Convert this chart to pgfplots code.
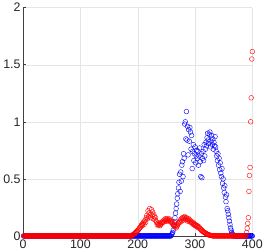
\documentclass[border=0pt]{standalone}
\usepackage{pgfplots}
\pgfplotsset{compat=1.18}
\usepackage{fontspec}
\setmainfont{Liberation Sans}
\begin{document}
\begin{tikzpicture}
\begin{axis}[
  scale only axis, width=231pt, height=230pt,
  xmin=0, xmax=400, ymin=0, ymax=2,
  xtick={0,100,200,300,400}, ytick={0,0.5,1,1.5,2},
  yticklabels={0,0.5,1,1.5,2},
  axis lines*=left,
  axis line style={-, black!75, line width=0.5pt},
  grid=major, grid style={black!10, line width=0.4pt},
  tick style={black!75, line width=0.5pt},
  tick align=inside, major tick length=2.5pt,
  /pgf/number format/assume math mode=true,
  tick label style={font=\fontsize{12.5}{14}\selectfont, text=black!85},
  yticklabel style={xshift=1pt},
  xticklabel style={yshift=0pt},
  clip=false,
]
\addplot[only marks, mark=o, mark size=2.4pt, blue, line width=0.4pt] coordinates {
(1,0)(2,0)(3,0)(4,0)(5,0)(6,0)(7,0)(8,0)(9,0)(10,0)
(11,0)(12,0)(13,0)(14,0)(15,0)(16,0)(17,0)(18,0)(19,0)(20,0)
(21,0)(22,0)(23,0)(24,0)(25,0)(26,0)(27,0)(28,0)(29,0)(30,0)
(31,0)(32,0)(33,0)(34,0)(35,0)(36,0)(37,0)(38,0)(39,0)(40,0)
(41,0)(42,0)(43,0)(44,0)(45,0)(46,0)(47,0)(48,0)(49,0)(50,0)
(51,0)(52,0)(53,0)(54,0)(55,0)(56,0)(57,0)(58,0)(59,0)(60,0)
(61,0)(62,0)(63,0)(64,0)(65,0)(66,0)(67,0)(68,0)(69,0)(70,0)
(71,0)(72,0)(73,0)(74,0)(75,0)(76,0)(77,0)(78,0)(79,0)(80,0)
(81,0)(82,0)(83,0)(84,0)(85,0)(86,0)(87,0)(88,0)(89,0)(90,0)
(91,0)(92,0)(93,0)(94,0)(95,0)(96,0)(97,0)(98,0)(99,0)(100,0)
(101,0)(102,0)(103,0)(104,0)(105,0)(106,0)(107,0)(108,0)(109,0)(110,0)
(111,0)(112,0)(113,0)(114,0)(115,0)(116,0)(117,0)(118,0)(119,0)(120,0)
(121,0)(122,0)(123,0)(124,0)(125,0)(126,0)(127,0)(128,0)(129,0)(130,0)
(131,0)(132,0)(133,0)(134,0)(135,0)(136,0)(137,0)(138,0)(139,0)(140,0)
(141,0)(142,0)(143,0)(144,0)(145,0)(146,0)(147,0)(148,0)(149,0)(150,0)
(151,0)(152,0)(153,0)(154,0)(155,0)(156,0)(157,0)(158,0)(159,0)(160,0)
(161,0)(162,0)(163,0)(164,0)(165,0)(166,0)(167,0)(168,0)(169,0)(170,0)
(171,0)(172,0)(173,0)(174,0)(175,0)(176,0)(177,0)(178,0)(179,0)(180,0)
(181,0)(182,0)(183,0)(184,0)(185,0)(186,0)(187,0)(188,0)(189,0)(190,0)
(191,0)(192,0)(193,0)(194,0)(195,0)(196,0)(197,0)(198,0)(199,0)(200,0)
(201,0)(202,0)(203,0)(204,0)(205,0)(206,0)(207,0)(208,0)(209,0)(210,0)
(211,0)(212,0)(213,0)(214,0)(215,0)(216,0)(217,0)(218,0)(219,0)(220,0)
(221,0)(222,0)(223,0)(224,0)(225,0)(226,0)(227,0)(228,0)(229,0)(230,0)
(231,0)(232,0)(233,0)(234,0)(235,0)(236,0)(237,0)(238,0)(239,0)(240,0)
(241,0)(242,0)(243,0)(244,0)(245,0)(246,0)(247,0)(248,0)(249,0)(250,0)
(251,0)(252,0)(253,0)(254,0)(255,0)(256,0)(257,0)(258,0)
(259,0.01)(260,0.02)(261,0.03)(262,0.05)(263,0.09)(264,0.12)(265,0.16)(266,0.2)(267,0.24)(268,0.28)
(269,0.33)(270,0.37)(271,0.42)(272,0.47)(273,0.54)(274,0.39)(275,0.56)(276,0.48)(277,0.62)(278,0.65)
(279,0.52)(280,0.72)(281,0.68)(282,0.98)(283,1.0)(284,0.85)(285,1.09)(286,0.84)(287,0.96)(288,0.71)
(289,0.93)(290,0.83)(291,0.95)(292,0.91)(293,0.76)(294,0.88)(295,0.59)(296,0.74)(297,0.80)(298,0.66)
(299,0.72)(300,0.78)(301,0.64)(302,0.70)(303,0.75)(304,0.68)(305,0.74)(306,0.62)(307,0.70)(308,0.77)
(309,0.65)(310,0.52)(311,0.72)(312,0.51)(313,0.68)(314,0.74)(315,0.66)(316,0.80)(317,0.70)(318,0.76)
(319,0.82)(320,0.79)(321,0.86)(322,0.90)(323,0.84)(324,0.81)(325,0.89)(326,0.91)(327,0.78)(328,0.83)
(329,0.88)(330,0.80)(331,0.85)(332,0.76)(333,0.82)(334,0.79)(335,0.87)(336,0.78)(337,0.74)(338,0.70)
(339,0.66)(340,0.72)(341,0.62)(342,0.68)(343,0.58)(344,0.64)(345,0.55)(346,0.52)(347,0.59)(348,0.46)
(349,0.50)(350,0.42)(351,0.38)(352,0.44)(353,0.34)(354,0.30)(355,0.36)(356,0.24)(357,0.22)(358,0.19)
(359,0.16)(360,0.13)(361,0.10)(362,0.07)(363,0.05)(364,0.03)(365,0.02)(366,0.01)
(367,0)(368,0)(369,0)(370,0)(371,0)(372,0)(373,0)(374,0)(375,0)(376,0)
(377,0)(378,0)(379,0)(380,0)(381,0)(382,0)(383,0)(384,0)(385,0)(386,0)
(387,0)(388,0)(389,0)(390,0)(391,0)(392,0)(393,0)(394,0)(395,0)(396,0)
(397,0)(398,0)(399,0)(400,0)
};
\addplot[only marks, mark=o, mark size=2.4pt, red, line width=0.4pt] coordinates {
(1,0)(2,0)(3,0)(4,0)(5,0)(6,0)(7,0)(8,0)(9,0)(10,0)
(11,0)(12,0)(13,0)(14,0)(15,0)(16,0)(17,0)(18,0)(19,0)(20,0)
(21,0)(22,0)(23,0)(24,0)(25,0)(26,0)(27,0)(28,0)(29,0)(30,0)
(31,0)(32,0)(33,0)(34,0)(35,0)(36,0)(37,0)(38,0)(39,0)(40,0)
(41,0)(42,0)(43,0)(44,0)(45,0)(46,0)(47,0)(48,0)(49,0)(50,0)
(51,0)(52,0)(53,0)(54,0)(55,0)(56,0)(57,0)(58,0)(59,0)(60,0)
(61,0)(62,0)(63,0)(64,0)(65,0)(66,0)(67,0)(68,0)(69,0)(70,0)
(71,0)(72,0)(73,0)(74,0)(75,0)(76,0)(77,0)(78,0)(79,0)(80,0)
(81,0)(82,0)(83,0)(84,0)(85,0)(86,0)(87,0)(88,0)(89,0)(90,0)
(91,0)(92,0)(93,0)(94,0)(95,0)(96,0)(97,0)(98,0)(99,0)(100,0)
(101,0)(102,0)(103,0)(104,0)(105,0)(106,0)(107,0)(108,0)(109,0)(110,0)
(111,0)(112,0)(113,0)(114,0)(115,0)(116,0)(117,0)(118,0)(119,0)(120,0)
(121,0)(122,0)(123,0)(124,0)(125,0)(126,0)(127,0)(128,0)(129,0)(130,0)
(131,0)(132,0)(133,0)(134,0)(135,0)(136,0)(137,0)(138,0)(139,0)(140,0)
(141,0)(142,0)(143,0)(144,0)(145,0)(146,0)(147,0)(148,0)(149,0)(150,0)
(151,0)(152,0)(153,0)(154,0)(155,0)(156,0)(157,0)(158,0)(159,0)(160,0)
(161,0)(162,0)(163,0)(164,0)(165,0)(166,0)(167,0)(168,0)(169,0)(170,0)
(171,0)(172,0)(173,0)(174,0)(175,0)(176,0)(177,0)(178,0)(179,0)(180,0)
(181,0)(182,0)(183,0)(184,0)(185,0)(186,0)(187,0)(188,0)(189,0)
(190,0.005)(191,0.01)(192,0.01)(193,0.015)(194,0.02)(195,0.02)(196,0.03)(197,0.03)(198,0.04)(199,0.04)
(200,0.05)(201,0.05)(202,0.06)(203,0.07)(204,0.07)(205,0.08)(206,0.09)(207,0.10)(208,0.09)(209,0.11)
(210,0.12)(211,0.10)(212,0.13)(213,0.14)(214,0.12)(215,0.16)(216,0.18)(217,0.15)(218,0.22)(219,0.17)
(220,0.20)(221,0.24)(222,0.16)(223,0.19)(224,0.23)(225,0.18)(226,0.21)(227,0.15)(228,0.19)(229,0.17)
(230,0.14)(231,0.16)(232,0.13)(233,0.12)(234,0.10)(235,0.11)(236,0.09)(237,0.10)(238,0.11)(239,0.09)
(240,0.10)(241,0.12)(242,0.11)(243,0.12)(244,0.13)(245,0.12)(246,0.14)(247,0.13)(248,0.15)(249,0.14)
(250,0.13)(251,0.15)(252,0.14)(253,0.13)(254,0.14)(255,0.15)(256,0.13)(257,0.14)(258,0.12)(259,0.13)
(260,0.11)(261,0.12)(262,0.10)(263,0.09)(264,0.10)(265,0.08)(266,0.09)(267,0.07)(268,0.08)(269,0.09)
(270,0.10)(271,0.11)(272,0.12)(273,0.13)(274,0.12)(275,0.14)(276,0.15)(277,0.13)(278,0.16)(279,0.15)
(280,0.14)(281,0.16)(282,0.17)(283,0.15)(284,0.14)(285,0.16)(286,0.15)(287,0.13)(288,0.14)(289,0.15)
(290,0.13)(291,0.14)(292,0.12)(293,0.13)(294,0.12)(295,0.11)(296,0.12)(297,0.10)(298,0.11)(299,0.10)
(300,0.09)(301,0.10)(302,0.09)(303,0.08)(304,0.09)(305,0.08)(306,0.07)(307,0.08)(308,0.07)(309,0.06)
(310,0.06)(311,0.05)(312,0.05)(313,0.04)(314,0.04)(315,0.035)(316,0.03)(317,0.03)(318,0.025)(319,0.02)
(320,0.02)(321,0.015)(322,0.015)(323,0.01)(324,0.01)(325,0.008)(326,0.006)(327,0.005)(328,0.004)(329,0.003)
(330,0.002)
(331,0)(332,0)(333,0)(334,0)(335,0)(336,0)(337,0)(338,0)(339,0)(340,0)
(341,0)(342,0)(343,0)(344,0)(345,0)(346,0)(347,0)(348,0)(349,0)(350,0)
(351,0)(352,0)(353,0)(354,0)(355,0)(356,0)(357,0)(358,0)(359,0)(360,0)
(361,0)(362,0)(363,0)(364,0)(365,0)(366,0)(367,0)(368,0)(369,0)(370,0)
(371,0)(372,0)(373,0)(374,0)(375,0)(376,0)(377,0)(378,0)(379,0)(380,0)
(381,0)(382,0)(383,0)(384,0)(385,0)(386,0)(387,0)(388,0)(389,0)
(390,0.03)(391,0.067)(392,0.11)(393,0.16)(394,0.39)(395,0.53)(396,0.60)(397,1.00)(398,1.21)(399,1.55)
(400,1.615)
};
\end{axis}
\end{tikzpicture}
\end{document}
